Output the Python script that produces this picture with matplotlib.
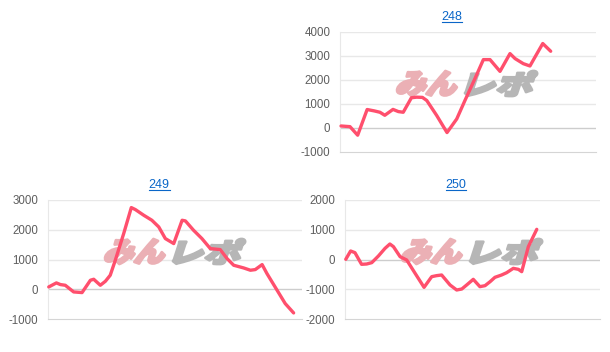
import matplotlib
matplotlib.use("Agg")
import matplotlib.pyplot as plt
from matplotlib.textpath import TextPath
from matplotlib.patches import PathPatch
from matplotlib.font_manager import FontProperties
from matplotlib.transforms import Affine2D, IdentityTransform
from matplotlib.lines import Line2D

plt.rcParams['font.family'] = ['Liberation Sans', 'DejaVu Sans']
plt.rcParams['axes.unicode_minus'] = False

# ---- data ----
titles = ["248", "249", "250"]

x_248 = [0.4, 3.9, 6.9, 10.6, 13.4, 15.6, 17.5, 20.7, 22.8, 24.7, 27.9, 29.9, 32.2, 33.9,
         37.8, 41.8, 45.6, 48.8, 52.7, 56.0, 58.6, 62.5, 66.4, 68.4, 71.6, 74.2, 76.2, 79.2, 82.3]
y_248 = [84, 56, -300, 770, 712, 656, 530, 775, 684, 656, 1260, 1285, 1275, 1145,
         517, -190, 377, 1145, 2053, 2849, 2849, 2360, 3100, 2891, 2681, 2584, 2961, 3520, 3198]

x_249 = [0.3, 3.3, 4.9, 6.8, 10.1, 13.4, 16.7, 18.0, 20.6, 22.6, 24.5, 26.5, 29.8, 32.8,
         34.4, 37.7, 40.9, 43.6, 46.2, 49.5, 52.8, 54.1, 57.3, 60.6, 63.9, 67.8, 70.5, 73.1,
         77.0, 79.7, 81.6, 84.3, 86.2, 90.2, 93.4, 96.7]
y_249 = [78, 213, 157, 134, -90, -112, 303, 336, 134, 269, 471, 975, 1871, 2745,
         2678, 2487, 2319, 2095, 1703, 1535, 2319, 2297, 1983, 1703, 1367, 1333, 1031, 807,
         717, 639, 661, 829, 527, -34, -482, -796]

x_250 = [0.3, 2.2, 3.9, 6.5, 8.5, 10.5, 13.1, 15.7, 17.6, 19.0, 21.6, 24.2, 27.5, 31.0,
         34.0, 35.9, 37.9, 41.2, 43.8, 45.8, 47.7, 50.3, 52.9, 54.9, 56.9, 58.8, 61.4, 63.4,
         66.0, 68.0, 69.3, 71.9, 75.2]
y_250 = [6, 286, 230, -162, -151, -106, 118, 375, 521, 431, 95, -17, -465, -936,
         -577, -543, -521, -857, -1025, -992, -857, -667, -913, -880, -745, -599, -521, -443,
         -297, -331, -409, 431, 1014]

ylims = [(-1000, 4000), (-1000, 3000), (-2000, 2000)]
series = [(x_248, y_248), (x_249, y_249), (x_250, y_250)]

# ---- layout (pixels) ----
W, H = 610, 352
fig = plt.figure(figsize=(W / 100, H / 100), dpi=100)

# (left, top, right, bottom) in pixels from top-left
boxes = [(340, 32, 596, 152), (48, 200, 302, 319), (345, 200, 600, 319)]
title_pos = [(452, 17), (159, 185), (456, 185)]

LINE_COLOR = '#ff4f6d'
GRID = '#e8e8e8'
ZERO = '#cdcdcd'


def watermark(ax, left, top):
    fp = FontProperties(family='Noto Sans CJK JP', weight='black')
    parts = [("みん", '#ebb0b5', 69), ("レポ", '#b6b6b6', 76)]
    h = 25
    x0 = left
    for txt, col, w in parts:
        tp = TextPath((0, 0), txt, size=10, prop=fp)
        ext = tp.get_extents()
        tr = (Affine2D()
              .translate(-ext.x0, -ext.y0)
              .scale((w - 10) / ext.width, h / ext.height)
              .skew_deg(18, 0)
              .translate(x0 + 1, H - top - h - 1))
        path = tr.transform_path(tp)
        patch = PathPatch(path, facecolor=col, edgecolor=col, lw=2.0,
                          joinstyle='round', transform=IdentityTransform(), zorder=1)
        ax.add_patch(patch)
        x0 += w


axes = []
for (l, t, r, b), (xs, ys), yl in zip(boxes, series, ylims):
    ax = fig.add_axes([l / W, (H - b) / H, (r - l) / W, (b - t) / H])
    ax.set_facecolor('none')
    ax.set_xlim(0, 100)
    ax.set_ylim(*yl)
    ax.set_yticks(range(yl[0], yl[1] + 1, 1000))
    ax.set_yticklabels([str(v) for v in range(yl[0], yl[1] + 1, 1000)])
    ax.set_xticks([])
    ax.tick_params(axis='y', length=0, pad=7, labelsize=8.3, labelcolor='#5e5e5e')
    for s in ['top', 'right']:
        ax.spines[s].set_visible(False)
    ax.spines['left'].set_color(GRID)
    ax.spines['bottom'].set_color('#d5d5d5')
    ax.set_axisbelow(True)
    for v in range(yl[0] + 1000, yl[1] + 1, 1000):
        ax.axhline(v, color=ZERO if v == 0 else GRID, lw=1, zorder=0.5)
    watermark(ax, l + 54, t + 38)
    ax.plot(xs, ys, color=LINE_COLOR, lw=2.4, solid_joinstyle='round',
            solid_capstyle='round', zorder=3, clip_on=False)
    axes.append(ax)

texts = []
for (cx, cy), ttl in zip(title_pos, titles):
    tx = fig.text(cx / W, 1 - cy / H, ttl, ha='center', va='center',
                  fontsize=9, color='#0a66c8')
    texts.append(tx)

fig.canvas.draw()
r = fig.canvas.get_renderer()
for tx in texts:
    bb = tx.get_window_extent(renderer=r)
    yline = bb.y0 + 1
    fig.add_artist(Line2D([bb.x0, bb.x1], [yline, yline], color='#0a66c8', lw=0.8,
                          transform=IdentityTransform()))

fig.savefig('out.png', dpi=100)
